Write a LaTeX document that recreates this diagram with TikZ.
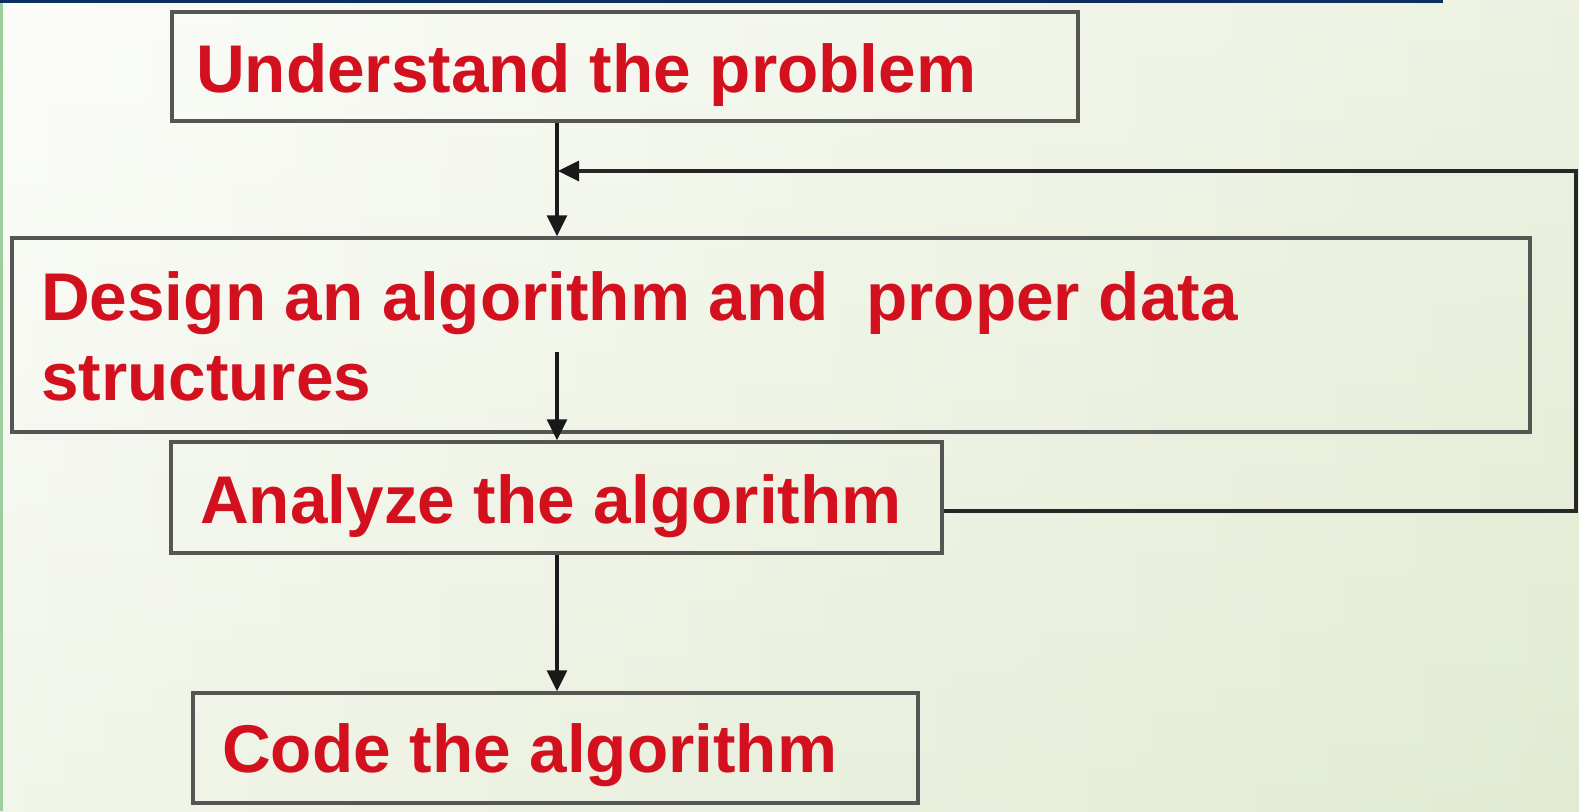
\documentclass[tikz,border=0pt]{standalone}
\usepackage{fontspec}
\setmainfont{Liberation Sans}
\usetikzlibrary{arrows.meta}
\definecolor{bgA}{HTML}{FAFBF7}
\definecolor{bgB}{HTML}{E2EBD2}
\definecolor{txtred}{HTML}{D3101E}
\definecolor{boxgray}{HTML}{555553}
\definecolor{topblue}{HTML}{0B2F5E}
\definecolor{sidegreen}{HTML}{9CCF9C}
\tikzset{
  box/.style={draw=boxgray, line width=3.4pt, inner sep=0pt, fill=none},
  lbl/.style={text=txtred, font=\bfseries\fontsize{67.5}{80}\selectfont, inner sep=0pt, anchor=base west},
  flow/.style={draw=black!90, line width=3.2pt, -{Triangle[length=21pt,width=20pt]}},
  fb/.style={draw=black!85, line width=3.4pt}
}
\begin{document}
\begin{tikzpicture}[x=1pt,y=-1pt]
\useasboundingbox (0,0) rectangle (1579,811);
\shade[left color=bgA, right color=bgB] (0,0) rectangle (1579,811);
\shade[top color=white, bottom color=bgB, fill opacity=0.35] (0,0) rectangle (1579,811);
\fill[topblue] (0,0) rectangle (1443,2.5);
\fill[sidegreen] (0,2.5) rectangle (3,811);

\node[box, minimum width=906pt, minimum height=109pt] (b1) at (625,66.5) {};
\node[box, minimum width=1518pt, minimum height=194pt] (b2) at (771,335) {};
\node[box, minimum width=771pt, minimum height=111pt] (b3) at (556.5,497.5) {};
\node[box, minimum width=725pt, minimum height=110pt] (b4) at (555.5,748) {};

\node[lbl] (t1) at (196,92) {Understand the problem};
\node[lbl] (t2) at (41,320) {Design an algorithm and\ \ proper data};
\node[lbl] (t3) at (41,400) {structures};
\node[lbl] (t4) at (200,523) {Analyze the algorithm};
\node[lbl] (t5) at (222,772) {Code the algorithm};

\coordinate (ax) at (557,0);
\coordinate (mid) at (557,352);
\coordinate (fbR) at (1576,511);
\coordinate (fbT) at (1576,171);
\coordinate (fbTip) at (558,171);

\draw[flow] (b1.south -| ax) -- (b2.north -| ax);
\draw[flow] (mid) -- (b3.north -| ax);
\draw[flow] (b3.south -| ax) -- (b4.north -| ax);
\draw[fb] (b3.east |- fbR) -- (fbR) -- (fbT) -- ([xshift=18pt]fbTip);
\draw[flow] ([xshift=20pt]fbTip) -- (fbTip);
\end{tikzpicture}
\end{document}
